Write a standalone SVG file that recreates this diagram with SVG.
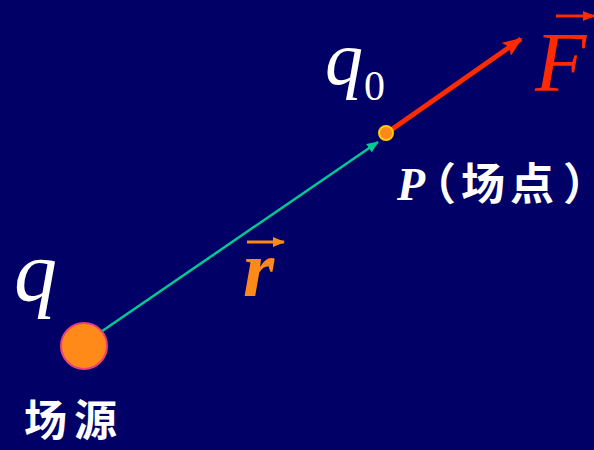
<svg xmlns="http://www.w3.org/2000/svg" width="594" height="450" viewBox="0 0 594 450">
<defs>
<style>
.m{font-family:"Liberation Serif","Times New Roman",serif;font-style:italic}
.cjk{font-family:"Noto Sans CJK SC",sans-serif;fill:#ffffff;font-weight:bold;font-style:normal}
.h{font-feature-settings:"halt" 1}
</style>
<marker id="ta" markerWidth="12" markerHeight="10" refX="11" refY="5" orient="auto" markerUnits="userSpaceOnUse" viewBox="0 0 12 10">
<path d="M0,0 L12,5 L0,10 Z" fill="#00c893"/>
</marker>
<marker id="ra" markerWidth="20" markerHeight="16" refX="18" refY="8" orient="auto" markerUnits="userSpaceOnUse" viewBox="0 0 20 16">
<path d="M0,0 L20,8 L0,16 L4,8 Z" fill="#ff2a00"/>
</marker>
<marker id="oa" markerWidth="12" markerHeight="10" refX="11" refY="5" orient="auto" markerUnits="userSpaceOnUse" viewBox="0 0 12 10">
<path d="M0,0 L12,5 L0,10 Z" fill="#ff8a1a"/>
</marker>
<marker id="fa" markerWidth="12" markerHeight="10" refX="11" refY="5" orient="auto" markerUnits="userSpaceOnUse" viewBox="0 0 12 10">
<path d="M0,0 L12,5 L0,10 Z" fill="#ff2a00"/>
</marker>
</defs>
<rect width="594" height="450" fill="#000066"/>
<g id="connectors">
<line x1="92" y1="338" x2="378" y2="142" stroke="#00c893" stroke-width="2.5" marker-end="url(#ta)"/>
<line x1="391" y1="130" x2="521" y2="39" stroke="#ff2a00" stroke-width="5" marker-end="url(#ra)"/>
</g>
<g id="source">
<circle cx="84" cy="346" r="23" fill="#ff8a1a" stroke="#e8407a" stroke-width="2"/>
<text x="14" y="300" class="m" font-size="86" fill="#ffffff">q</text>
<text x="24" y="436" class="cjk" font-size="43" letter-spacing="7">场源</text>
</g>
<g id="pointP">
<circle cx="386" cy="133" r="7" fill="#ff8a1a" stroke="#ffcc00" stroke-width="2"/>
<text x="325" y="84" class="m" font-size="76" fill="#ffffff">q</text>
<text x="364" y="100" font-family="Liberation Serif, serif" font-size="42" fill="#ffffff">0</text>
<text x="397" y="200" fill="#ffffff"><tspan class="m" font-size="46" font-weight="bold">P</tspan><tspan class="cjk h" font-size="44" dx="9">（</tspan><tspan class="cjk" font-size="44" x="461">场</tspan><tspan class="cjk" font-size="44" dx="5">点</tspan><tspan class="cjk h" font-size="44" dx="9">）</tspan></text>
</g>
<g id="vecR">
<line x1="247" y1="242" x2="284" y2="242" stroke="#ff8a1a" stroke-width="3" marker-end="url(#oa)"/>
<text x="243" y="296" class="m" font-size="80" font-weight="bold" fill="#ff8a1a">r</text>
</g>
<g id="vecF">
<line x1="556" y1="16" x2="594" y2="16" stroke="#ff2a00" stroke-width="3" marker-end="url(#fa)"/>
<text x="535" y="91" class="m" font-size="84" fill="#ff2a00">F</text>
</g>
</svg>
